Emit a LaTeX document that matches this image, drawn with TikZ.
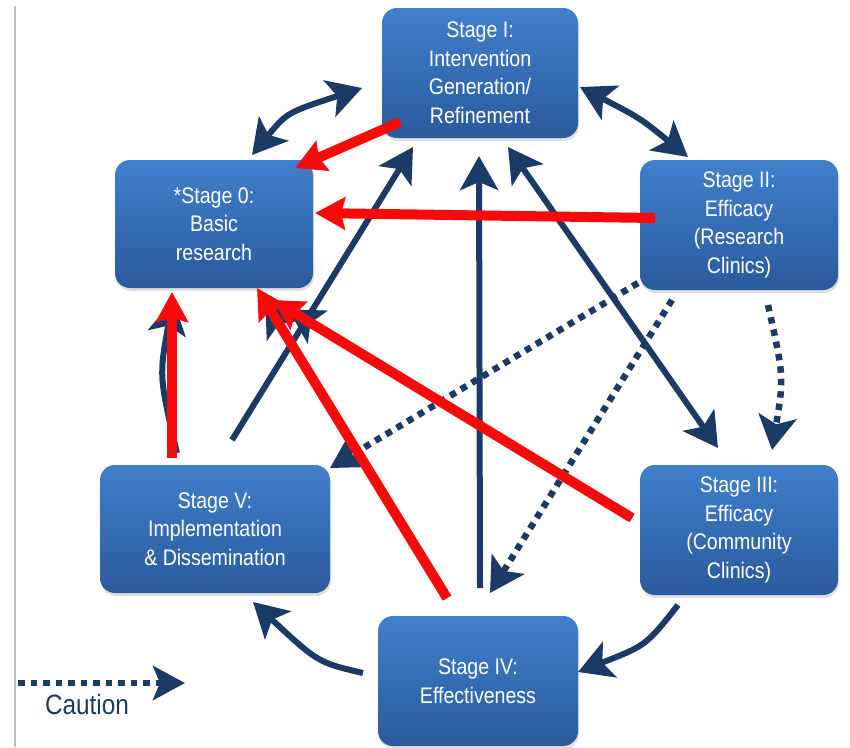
\documentclass[tikz,border=0pt]{standalone}
\usepackage{fontspec}
\setmainfont[FakeStretch=0.87]{Liberation Sans}
\usetikzlibrary{arrows.meta,shadows}
\definecolor{navy}{HTML}{1C3A66}
\definecolor{boxtop}{HTML}{4080CC}
\definecolor{boxbot}{HTML}{2A5A9C}
\definecolor{redline}{HTML}{F70A0A}

\begin{document}
\begin{tikzpicture}[x=1pt,y=-1pt,
            stagebox/.style={rectangle,rounded corners=15pt,outer sep=0pt,
                top color=boxtop,bottom color=boxbot,text=white,align=center,
                minimum width=198pt,minimum height=130pt,
                font=\fontsize{22.5}{28.5}\selectfont,
                drop shadow={shadow xshift=1pt,shadow yshift=-3pt,opacity=0.25}},
            darrow/.style={draw=navy,line width=6pt,
                -{Stealth[length=34pt,width=38pt,inset=8pt]}},
            dtwo/.style={darrow,
                {Stealth[length=34pt,width=38pt,inset=8pt]}-{Stealth[length=34pt,width=38pt,inset=8pt]}},
            dotarrow/.style={darrow,line width=6.5pt,dash pattern=on 6.5pt off 6pt},
            redarrow/.style={draw=redline,line width=10pt,
                -{Stealth[length=30pt,width=32pt,inset=4pt]}}
            ]
            \useasboundingbox (0,0) rectangle (850,747);
            \draw[black!25,line width=1.2pt] (15,6) -- (15,747);

            \node[stagebox,minimum width=196pt] (st1) at (480,73) {Stage I:\\Intervention\\Generation/\\Refinement};
            \node[stagebox,minimum height=128pt] (st0) at (214,224) {*Stage 0:\\Basic\\research};
            \node[stagebox] (st2) at (739,225) {Stage II:\\Efficacy\\(Research\\Clinics)};
            \node[stagebox] (st3) at (739,530) {Stage III:\\Efficacy\\(Community\\Clinics)};
            \node[stagebox,minimum width=230pt,minimum height=128pt] (st5) at (215,529) {Stage V:\\Implementation\\\& Dissemination};
            \node[stagebox,minimum width=200pt] (st4) at (478,681) {Stage IV:\\Effectiveness};

            % cycle round the stages
            \draw[dtwo] ([shift={(-20,15)}]st1.west) .. controls +(-75,24.5) .. ([shift={(38,-5)}]st0.north);
            \draw[dtwo] ([shift={(2,14)}]st1.east) .. controls +(60,31) .. ([shift={(-51,-3)}]st2.north);
            \draw[dotarrow] ([shift={(29,15)}]st2.south) .. controls +(16,72) .. ([shift={(33,-15)}]st3.north);
            \draw[darrow] ([shift={(-61,10)}]st3.south) .. controls +(-32,40.5) .. ([shift={(0,-9)}]st4.east);
            \draw[darrow] ([shift={(-15,-8)}]st4.west) .. controls +(-45,-10.5) .. ([shift={(38,9)}]st5.south);
            \draw[darrow] ([shift={(-38,-12)}]st5.north) .. controls +(-18,-77) .. ([shift={(-41,12)}]st0.south);

            % across the middle
            \draw[darrow] ([shift={(17,-25)}]st5.north) -- ([shift={(-67,9)}]st1.south);
            \draw[darrow] ([shift={(2,-28)}]st4.north) -- ([shift={(-1,18)}]st1.south);
            \draw[dtwo] ([shift={(28,9)}]st1.south) -- ([shift={(-21,-17)}]st3.north);
            \draw[darrow,shorten >=16pt] ([shift={(-31,-18)}]st4.north) -- ([shift={(43,0)}]st0.south);
            \draw[darrow,shorten >=18pt] ([shift={(-8,-12)}]st3.west) -- ([shift={(59,12)}]st0.south);
            \draw[dotarrow] ([shift={(-2,-7)}]st2.south west) -- ([shift={(0,3)}]st5.north east);
            \draw[dotarrow] ([shift={(-67,10)}]st2.south) -- ([shift={(12,-23)}]st4.north);

            % back to stage 0
            \draw[redarrow] ([shift={(18,-16)}]st1.south west) -- ([shift={(-18,8)}]st0.north east);
            \draw[redarrow] ([shift={(15,-7)}]st2.west) -- ([shift={(2,-11)}]st0.east);
            \draw[redarrow] ([shift={(-43,-7)}]st5.north) -- ([shift={(-42,4)}]st0.south);
            \draw[redarrow] ([shift={(-31,-18)}]st4.north) -- ([shift={(43,0)}]st0.south);
            \draw[redarrow] ([shift={(-8,-12)}]st3.west) -- ([shift={(59,12)}]st0.south);

            \coordinate (cauA) at (18,683);
            \coordinate (cauB) at (185,683);
            \draw[dotarrow,-{Stealth[length=32pt,width=34pt,inset=7pt]}] (cauA) -- (cauB);
            \node[text=navy,font=\fontsize{28}{32}\selectfont,anchor=base] (caution) at (87,714) {Caution};
        \end{tikzpicture}
\end{document}
